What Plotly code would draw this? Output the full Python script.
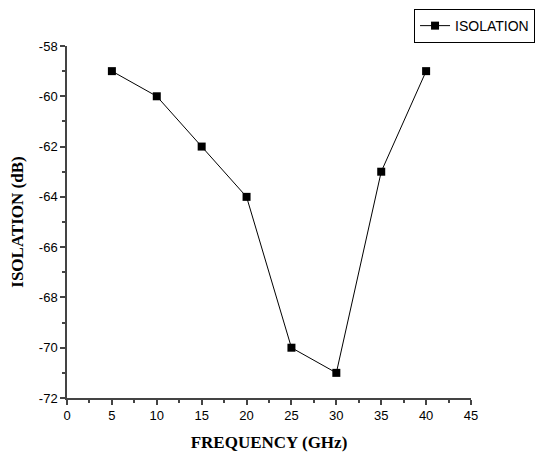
import plotly.graph_objects as go

freq = [5, 10, 15, 20, 25, 30, 35, 40]
isolation = [-59, -60, -62, -64, -70, -71, -63, -59]
series_name = "ISOLATION"
x_ticks = [0, 5, 10, 15, 20, 25, 30, 35, 40, 45]
y_ticks = [-72, -70, -68, -66, -64, -62, -60, -58]
y_tick_labels = ["-72", "-70", "-68", "-66", "-64", "-62", "-60", "-58"]

fig = go.Figure()
fig.add_trace(go.Scatter(
    x=freq, y=isolation, name=series_name, mode="lines+markers",
    line=dict(color="black", width=1),
    marker=dict(symbol="square", size=8, color="black"),
))

axis_common = dict(
    showgrid=False, zeroline=False, showline=True, linecolor="#444", linewidth=1.5,
    ticks="outside", ticklen=5, tickcolor="#444", tickwidth=1.5,
    tickfont=dict(family="Liberation Sans, Arial", size=13, color="black"),
    mirror=False, automargin=False,
)

# page body has an 8px default margin; size the figure to fit inside the window
fig.update_layout(
    width=535, height=451,
    margin=dict(l=59, r=72, t=38, b=61, autoexpand=False),
    paper_bgcolor="white", plot_bgcolor="white",
    xaxis=dict(range=[0, 45], tickvals=x_ticks, ticktext=[str(v) for v in x_ticks],
               title=dict(text="<b>FREQUENCY (GHz)</b>", font=dict(family="Liberation Serif, Times New Roman", size=17, color="black"), standoff=14),
               minor=dict(ticks="outside", ticklen=3, dtick=2.5, tickcolor="#444", tickwidth=1.5),
               **axis_common),
    yaxis=dict(range=[-72, -58], tickvals=y_ticks, ticktext=y_tick_labels,
               title=dict(text="<b>ISOLATION (dB)</b>", font=dict(family="Liberation Serif, Times New Roman", size=17, color="black"), standoff=11),
               minor=dict(ticks="outside", ticklen=3, dtick=1, tickcolor="#444", tickwidth=1.5),
               **axis_common),
    showlegend=True,
    legend=dict(x=0.859, y=1.105, xanchor="left", yanchor="top",
                bordercolor="black", borderwidth=1, bgcolor="white",
                font=dict(family="Liberation Sans, Arial", size=14, color="black"),
                itemwidth=30, tracegroupgap=0),
)

fig.write_html("out.html")
